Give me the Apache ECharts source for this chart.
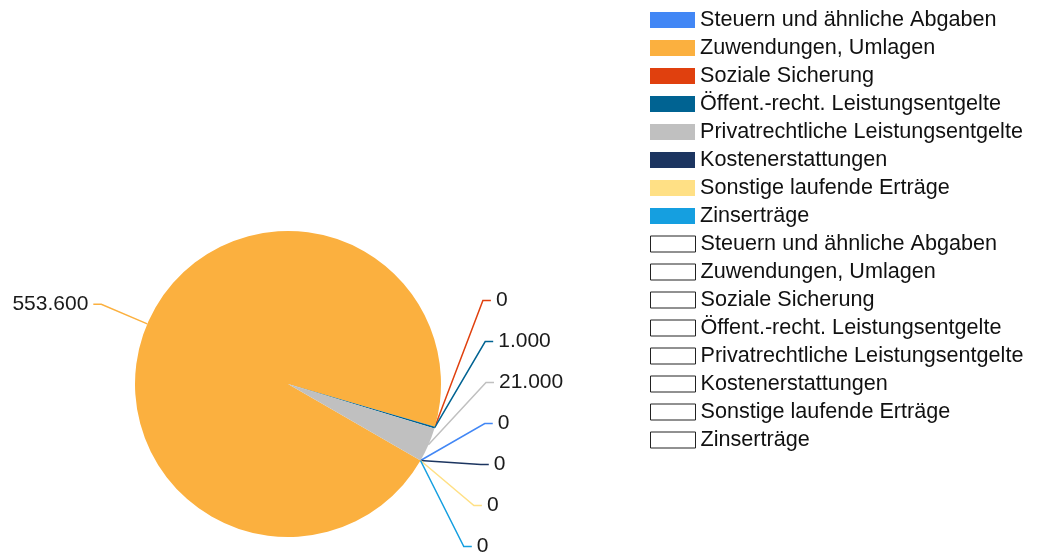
<!DOCTYPE html>
<html><head><meta charset="utf-8">
<script src="https://cdn.jsdelivr.net/npm/echarts@6/dist/echarts.min.js"></script>
<style>html,body{margin:0;padding:0;background:#fff}#c{width:1037px;height:553px}</style>
</head><body><div id="c"></div>
<script>
const categories = ['Steuern und ähnliche Abgaben','Zuwendungen, Umlagen','Soziale Sicherung','Öffent.-recht. Leistungsentgelte','Privatrechtliche Leistungsentgelte','Kostenerstattungen','Sonstige laufende Erträge','Zinserträge'];
const values = [0, 553600, 0, 1000, 21000, 0, 0, 0];
const colors = ['#4287f5','#fbb03f','#e0400e','#006392','#c0c0c0','#1c3560','#ffe085','#159fe0'];

function fmt(v){ return String(v).replace(/\B(?=(\d{3})+(?!\d))/g,'.'); }
const chart = echarts.init(document.getElementById('c'), null, {renderer:'canvas'});
const font = 'Liberation Sans, Arial, sans-serif';
const legendCommon = {orient:'vertical', left:645, itemWidth:45, itemHeight:16, itemGap:6, icon:'rect', selectedMode:false,
  textStyle:{fontFamily:font, fontSize:21.6, color:'#111', lineHeight:22, padding:[0,0,0,0]}};
const option = {
  animation:false,
  color: colors,
  legend:[
    Object.assign({}, legendCommon, {top:4, data: categories.map(n=>({name:n}))}),
    Object.assign({}, legendCommon, {top:228, data: categories.map(n=>({name:n, itemStyle:{color:'#fff', borderColor:'#222', borderWidth:1}}))})
  ],
  series:[{ type:'pie', center:[288,384], radius:153, startAngle:-30, clockwise:true,
    left:0, top:0, width:1037, height:567,
    avoidLabelOverlap:true,
    itemStyle:{borderWidth:0},
    emphasis:{disabled:true},
    label:{show:true, formatter:p=>fmt(p.value), fontFamily:font, fontSize:21, color:'#1a1a1a', lineHeight:39},
    labelLine:{show:true, length:50, length2:8, lineStyle:{width:1.5}},
    data: categories.map((n,i)=>({name:n, value:values[i]}))
  }]
};
chart.setOption(option);
</script></body></html>
